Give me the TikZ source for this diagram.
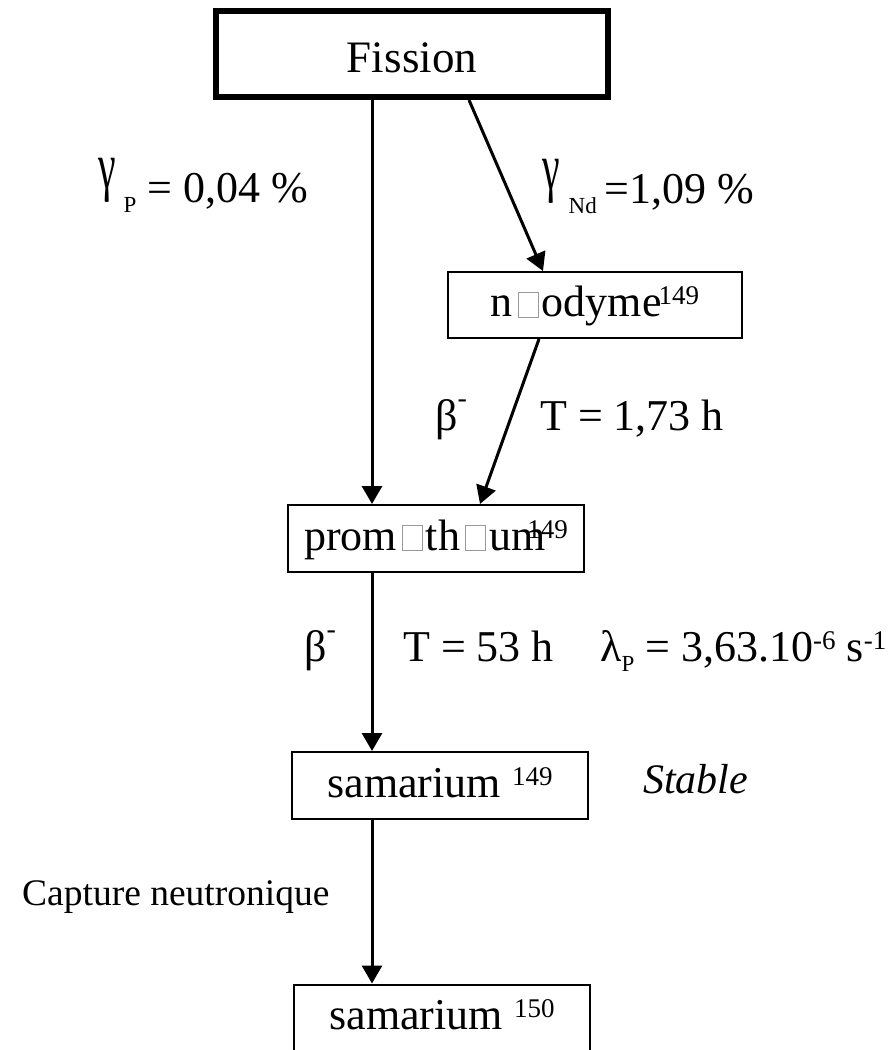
\documentclass[tikz,border=0pt]{standalone}
\usepackage{fontspec}
\setmainfont{Liberation Serif}
\usepackage{graphicx}
\usepackage{xcolor}
\usetikzlibrary{arrows.meta}

\newcommand\fsz[1]{\fontsize{#1}{#1}\selectfont}
\newcommand\nogl{\kern5pt{\color{gray!80}\fboxsep0pt\fboxrule1pt\fbox{\rule{0pt}{24pt}\hspace*{19pt}}}\kern3pt}
\newcommand\gam{\raisebox{14pt}{\scalebox{0.9}[1.5]{γ}}}
\newcommand\supm{\raisebox{23pt}{\fsz{28}-}}
\newcommand\sups[1]{\raisebox{12pt}{\fsz{27}#1}}
\newcommand\subs[1]{\raisebox{-10pt}{\fsz{23}#1}}

\begin{document}
\begin{tikzpicture}[x=1pt, y=-1pt,
    isobox/.style={draw, line width=2pt, inner sep=0pt, text height=31pt, text depth=8pt, font=\fsz{44}},
    lbl/.style={inner sep=0pt, anchor=base west, font=\fsz{44}},
    arr/.style={line width=3pt, -{Triangle[length=18pt, width=20pt]}}]
  \useasboundingbox (0,0) rectangle (895,1050);

  \node[draw, line width=6pt, inner sep=0pt, minimum width=392pt, minimum height=86pt,
        text height=36pt, text depth=0pt, font=\fsz{45}] (fission) at (412,54) {Fission};

  \node[isobox, minimum width=294pt, minimum height=66pt] (neodyme) at (595,305) {n\nogl odyme\kern-3pt\sups{149}};
  \node[isobox, minimum width=296pt, minimum height=67pt] (promethium) at (436,538.5) {prom\nogl th\nogl um\kern-18pt\sups{149}};
  \node[isobox, minimum width=296pt, minimum height=67pt] (sm149) at (440,785.5) {samarium \sups{149}};
  \node[isobox, minimum width=296pt, minimum height=67pt] (sm150) at (442,1018) {samarium \sups{150}};

  % yields and decay labels
  \node[lbl] (yieldP) at (98,202) {\gam\kern8pt\subs{P} = 0,04 \%};
  \node[lbl] (yieldNd) at (542,203) {\gam\kern9pt\subs{Nd}\kern8pt=1,09 \%};
  \node[lbl] (betaNd) at (435,430) {β\supm};
  \node[lbl] (periodNd) at (540,430) {T = 1,73 h};
  \node[lbl] (betaPm) at (304,661) {β\supm};
  \node[lbl] (periodPm) at (403,661) {T = 53 h};
  \node[lbl] (lambdaPm) at (600,661) {λ\subs{P} = 3,63.10\sups{-6} s\sups{-1}};
  \node[lbl, font=\fsz{42}\itshape] (stable) at (643,793) {Stable};
  \node[lbl, font=\fsz{37.5}] (capture) at (22,905) {Capture neutronique};

  \draw[arr] ([xshift=-40pt]fission.south) -- ([xshift=-64pt]promethium.north);
  \draw[arr] ([xshift=57pt]fission.south) -- ([xshift=-52pt]neodyme.north);
  \draw[arr] ([xshift=-56pt]neodyme.south) -- ([xshift=44pt]promethium.north);
  \draw[arr] ([xshift=-64pt]promethium.south) -- ([xshift=-68pt]sm149.north);
  \draw[arr] ([xshift=-68pt]sm149.south) -- ([xshift=-70pt]sm150.north);
\end{tikzpicture}
\end{document}
